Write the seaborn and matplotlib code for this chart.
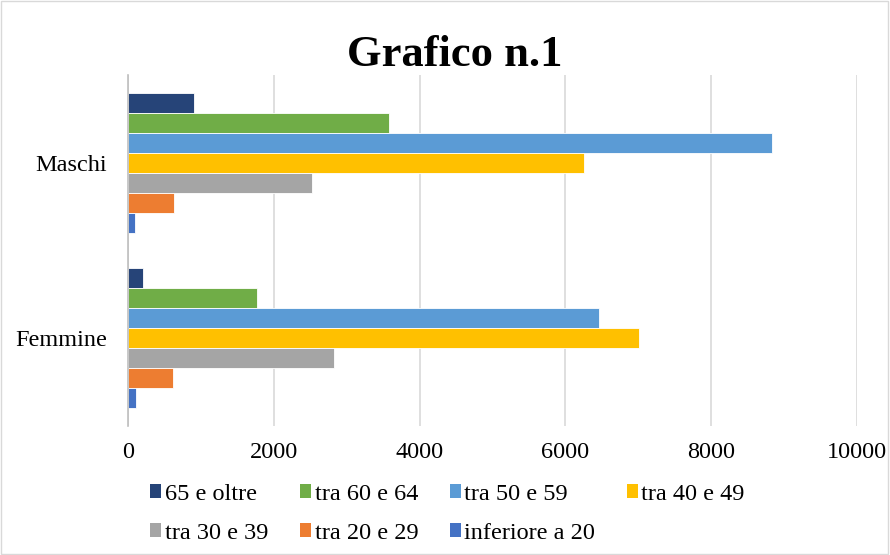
import numpy as np
import pandas as pd
import seaborn as sns
import matplotlib.pyplot as plt
from matplotlib.patches import Patch, Rectangle


categories = ['Maschi', 'Femmine']
age_groups = ['65 e oltre', 'tra 60 e 64', 'tra 50 e 59', 'tra 40 e 49',
              'tra 30 e 39', 'tra 20 e 29', 'inferiore a 20']
maschi = [900, 3585, 8840, 6255, 2530, 635, 92]
femmine = [210, 1775, 6465, 7010, 2830, 617, 105]
colors = ['#264478', '#70AD47', '#5B9BD5', '#FFC000',
          '#A5A5A5', '#ED7D31', '#4472C4']
x_ticks = [0, 2000, 4000, 6000, 8000, 10000]


def build_frame():
    rows = []
    for cat, values in zip(categories, [maschi, femmine]):
        for group, val in zip(age_groups, values):
            rows.append({'sesso': cat, 'eta': group, 'valore': val})
    return pd.DataFrame(rows)


def main():
    sns.set_style('white')
    plt.rcParams['font.family'] = ['Liberation Serif', 'DejaVu Serif']
    plt.rcParams['text.color'] = 'black'

    df = build_frame()
    fig = plt.figure(figsize=(8.9, 5.55), dpi=100)
    ax = fig.add_axes([0.1438, 0.2333, 0.963 - 0.1438, 0.864 - 0.2333])

    sns.barplot(data=df, y='sesso', x='valore', hue='eta', order=categories,
                hue_order=age_groups, palette=colors, orient='h', width=0.8,
                ax=ax, legend=False, saturation=1, edgecolor='white',
                linewidth=0.6)

    ax.set_xlim(0, 10000)
    ax.set_ylim(1.5, -0.5)
    ax.set_xticks(x_ticks)
    ax.set_xticklabels([str(t) for t in x_ticks])
    ax.xaxis.grid(True, color='#D9D9D9', linewidth=1.2)
    ax.yaxis.grid(False)
    ax.set_axisbelow(True)
    ax.set_xlabel('')
    ax.set_ylabel('')
    for side in ['top', 'right', 'bottom']:
        ax.spines[side].set_visible(False)
    ax.spines['left'].set_color('#BFBFBF')
    ax.spines['left'].set_linewidth(1.2)
    ax.tick_params(axis='x', length=0, pad=12, labelsize=17.5,
                   labelcolor='black')
    ax.tick_params(axis='y', length=0, pad=15, labelsize=17.5,
                   labelcolor='black')

    fig.suptitle('Grafico n.1', x=0.511, y=0.90, va='center', fontsize=32,
                 fontweight='bold', color='black')

    # legend is filled column by column, so reorder to read row by row
    order = [0, 4, 1, 5, 2, 6, 3]
    handles = [Patch(facecolor=colors[i], edgecolor='none') for i in order]
    labels = [age_groups[i] for i in order]
    fig.legend(handles, labels, loc='center', ncol=4,
               bbox_to_anchor=(0.503, 0.0745), frameon=False, fontsize=17.5,
               handlelength=0.45, handleheight=0.55, handletextpad=0.15,
               columnspacing=1.3, labelspacing=0.75)

    fig.patches.append(Rectangle((0.001, 0.001), 0.997, 0.997,
                                 transform=fig.transFigure, fill=False,
                                 edgecolor='#D9D9D9', linewidth=1))

    plt.savefig('out.png', dpi=100)


if __name__ == '__main__':
    main()
